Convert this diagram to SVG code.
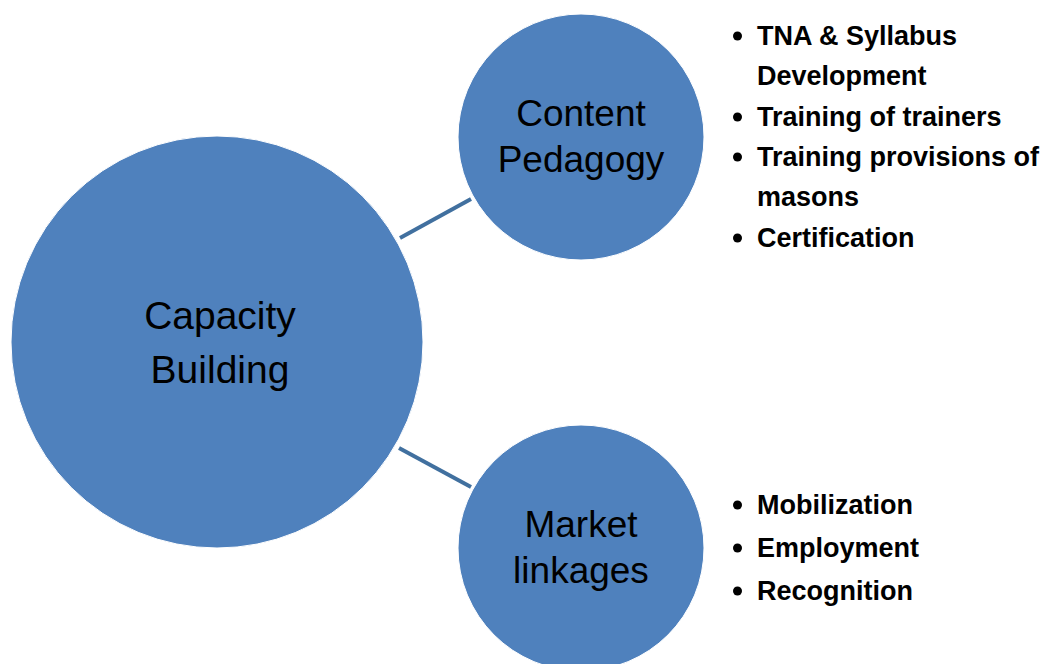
<svg xmlns="http://www.w3.org/2000/svg" width="1048" height="664" viewBox="0 0 1048 664">
<style>
.node{fill:#4f81bd;stroke:#ffffff;stroke-width:1}
.lbl{font-family:"Liberation Sans",Arial,sans-serif;fill:#000;text-anchor:middle}
.big{font-size:39px}
.mid{font-size:37px}
.conn{stroke:#41709f;stroke-width:4;fill:none}
.list{font-family:"Liberation Sans",Arial,sans-serif;font-weight:bold;font-size:27px;fill:#000}
.dot{fill:#000}
</style>
<rect width="1048" height="664" fill="#ffffff"/>
<g id="connectors">
<line class="conn" x1="400" y1="238" x2="471" y2="199"/>
<line class="conn" x1="399" y1="448" x2="471" y2="487"/>
</g>
<g id="capacity-building">
<circle class="node" cx="217" cy="342" r="206"/>
<text class="lbl big" x="220" y="329">Capacity</text>
<text class="lbl big" x="220" y="383">Building</text>
</g>
<g id="content-pedagogy">
<circle class="node" cx="581" cy="137" r="123"/>
<text class="lbl mid" x="581" y="126">Content</text>
<text class="lbl mid" x="581" y="172">Pedagogy</text>
</g>
<g id="market-linkages">
<circle class="node" cx="581" cy="548" r="123"/>
<text class="lbl mid" x="581" y="537">Market</text>
<text class="lbl mid" x="581" y="583">linkages</text>
</g>
<g id="content-list">
<circle class="dot" cx="737.5" cy="36" r="4.5"/>
<text class="list" x="757" y="45">TNA &amp; Syllabus</text>
<text class="list" x="757" y="85">Development</text>
<circle class="dot" cx="737.5" cy="117" r="4.5"/>
<text class="list" x="757" y="126">Training of trainers</text>
<circle class="dot" cx="737.5" cy="157" r="4.5"/>
<text class="list" x="757" y="166">Training provisions of</text>
<text class="list" x="757" y="206">masons</text>
<circle class="dot" cx="737.5" cy="238" r="4.5"/>
<text class="list" x="757" y="247">Certification</text>
</g>
<g id="market-list">
<circle class="dot" cx="737.5" cy="505" r="4.5"/>
<text class="list" x="757" y="514">Mobilization</text>
<circle class="dot" cx="737.5" cy="548" r="4.5"/>
<text class="list" x="757" y="557">Employment</text>
<circle class="dot" cx="737.5" cy="591" r="4.5"/>
<text class="list" x="757" y="600">Recognition</text>
</g>
</svg>
